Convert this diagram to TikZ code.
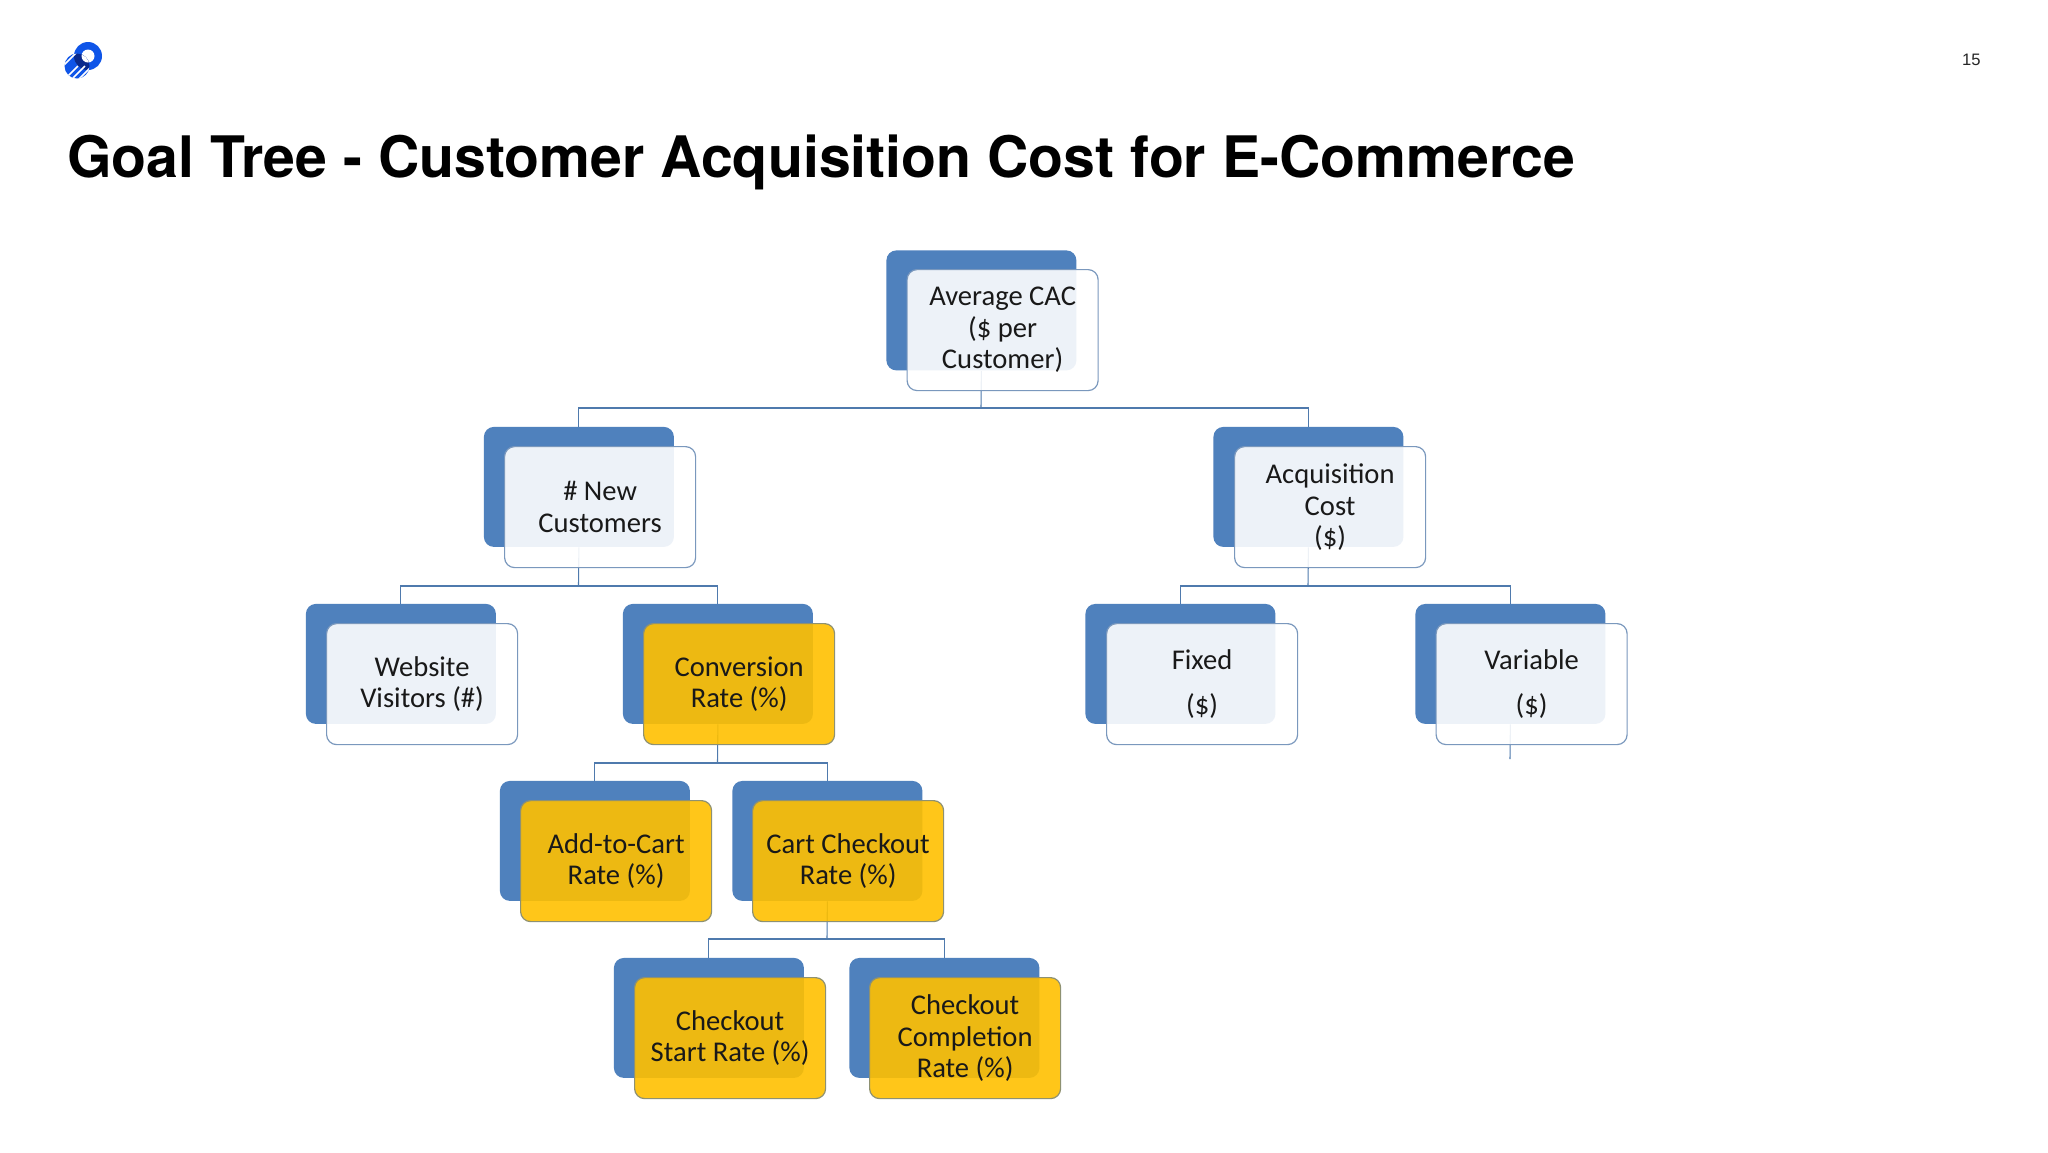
\documentclass[tikz,border=0pt]{standalone}
\usepackage{fontspec}
\setmainfont{Carlito}
\newfontfamily\titlefont{TeX Gyre Heros}
\newfontfamily\numfont{Liberation Sans}
\definecolor{backblue}{HTML}{4F81BD}
\definecolor{linkblue}{HTML}{4F7AAD}
\definecolor{edgeblue}{HTML}{7A98BD}
\definecolor{edgegold}{HTML}{8E9172}
\definecolor{gold}{HTML}{FFC000}
\definecolor{logoblue}{HTML}{0F55E8}
\definecolor{logodark}{HTML}{0A2A8C}
\tikzset{
  x=0.5pt,y=-0.5pt,
  backbox/.style={anchor=north west,minimum width=95pt,minimum height=60pt,inner sep=0pt,rounded corners=5pt,fill=backblue},
  frontbox/.style={anchor=north west,minimum width=95.5pt,minimum height=60.5pt,inner sep=0pt,rounded corners=5pt,draw=edgeblue,line width=0.6pt,fill=white,fill opacity=0.9,text opacity=1,align=center,text=black!90,font=\fontsize{14.3pt}{15.75pt}\selectfont},
  goldbox/.style={frontbox,draw=edgegold,fill=gold,fill opacity=0.9},
  link/.style={draw=linkblue,line width=0.55pt},
}
\begin{document}
\begin{tikzpicture}
\useasboundingbox[fill=white] (0,0) rectangle (2048,1152);
% logo
\fill[logoblue] (88,56) circle (14);
\fill[white] (88,56) circle (6.5);
\begin{scope}
\clip (77,66) circle (12.5);
\fill[logoblue] (60,50) rectangle (95,85);
\fill[logodark] (88,56) circle (14);
\fill[white] (88,56) circle (6.5);
\foreach \d in {0,7}{
  \draw[white,line width=0.8pt] (56+\d,66) -- (72+\d,50);
}
\foreach \d in {0,7,14}{
  \draw[white,line width=0.8pt] (62+\d,82) -- (78+\d,66);
}
\end{scope}
% texts
\node[anchor=base west,inner sep=0pt,font=\titlefont\bfseries\fontsize{28.6pt}{32pt}\selectfont] (title) at (67,177) {Goal Tree - Customer Acquisition Cost for E-Commerce};
\node[anchor=base east,inner sep=0pt,font=\numfont\fontsize{8.3pt}{10pt}\selectfont,text=black!85] (page) at (1981,65) {15};
% back boxes
\node[backbox] (b1) at (886,250) {};
\node[backbox] (b2) at (483.5,426.5) {};
\node[backbox] (b3) at (1213,426.5) {};
\node[backbox] (b4) at (305.5,603.5) {};
\node[backbox] (b5) at (622.5,603.5) {};
\node[backbox] (b6) at (1085,603.5) {};
\node[backbox] (b7) at (1415,603.5) {};
\node[backbox] (b8) at (499.5,780.5) {};
\node[backbox] (b9) at (732,780.5) {};
\node[backbox] (b10) at (613.5,957.5) {};
\node[backbox] (b11) at (849,957.5) {};
% connectors
\coordinate (j1) at (981,408);
\coordinate (j2) at (578.5,586);
\coordinate (j3) at (1308,586);
\coordinate (j5) at (717.5,763);
\coordinate (j9) at (827,939);
\coordinate (stub) at (1510,759);
\draw[link] (b1.south) -- (j1);
\draw[link] (j1) -| (b2.north);
\draw[link] (j1) -| (b3.north);
\draw[link] (b2.south) -- (j2);
\draw[link] (j2) -| (b4.north);
\draw[link] (j2) -| (b5.north);
\draw[link] (b3.south) -- (j3);
\draw[link] (j3) -| (b6.north);
\draw[link] (j3) -| (b7.north);
\draw[link] (b5.south) -- (j5);
\draw[link] (j5) -| (b8.north);
\draw[link] (j5) -| (b9.north);
\draw[link] (b9.south) -- (j9);
\draw[link] (j9) -| (b10.north);
\draw[link] (j9) -| (b11.north);
\draw[link] (b7.south) -- (stub);
% front boxes
\node[frontbox] (f1) at (906.5,269) {Average CAC\\(\$ per\\Customer)};
\node[frontbox] (f2) at (504,446) {\# New\\Customers};
\node[frontbox] (f3) at (1234,446) {Acquisition\\Cost\\(\$)};
\node[frontbox] (f4) at (326,623) {Website\\Visitors (\#)};
\node[goldbox] (f5) at (643,623) {Conversion\\Rate (\%)};
\node[frontbox] (f6) at (1106,623) {Fixed\\[6.5pt](\$)};
\node[frontbox] (f7) at (1435.5,623) {Variable\\[6.5pt](\$)};
\node[goldbox] (f8) at (520,800) {Add-to-Cart\\Rate (\%)};
\node[goldbox] (f9) at (752,800) {Cart Checkout\\Rate (\%)};
\node[goldbox] (f10) at (634,977) {Checkout\\Start Rate (\%)};
\node[goldbox] (f11) at (869,977) {Checkout\\Completion\\Rate (\%)};
\end{tikzpicture}
\end{document}
